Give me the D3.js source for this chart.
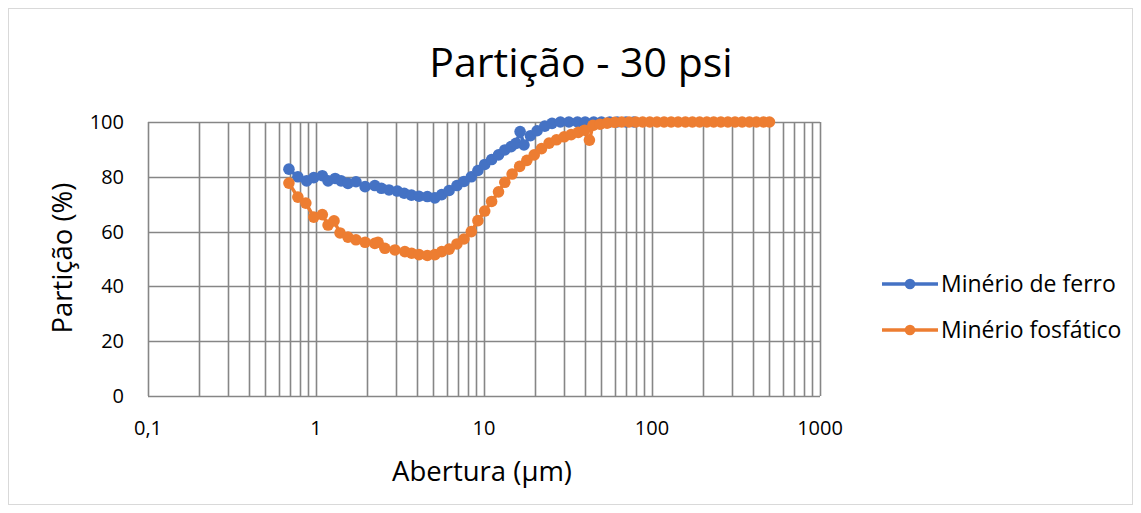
<!DOCTYPE html>
<html>
<head>
<meta charset="utf-8">
<script src="https://cdn.jsdelivr.net/npm/d3@7"></script>
<style>
  html, body { margin: 0; padding: 0; background: #fff; }
  svg { display: block; font-family: "Open Sans", sans-serif; }
</style>
</head>
<body>
<svg id="chart" width="1141" height="513"></svg>
<script>
// ---- data ----
const title = "Partição - 30 psi";
const xTitle = "Abertura (µm)";
const yTitle = "Partição (%)";
const seriesNames = ["Minério de ferro", "Minério fosfático"];
const seriesColors = ["#4472C4", "#ED7D31"];

const xTickValues = [0.1, 1, 10, 100, 1000];
const xTickLabels = ["0,1", "1", "10", "100", "1000"];
const yTickValues = [0, 20, 40, 60, 80, 100];

const feSize = [0.69,0.78,0.88,0.97,1.09,1.18,1.30,1.41,1.55,1.73,1.96,2.24,2.45,2.72,3.05,3.35,3.7,4.1,4.6,5.1,5.6,6.2,6.9,7.6,8.4,9.2,10.1,11.1,12.2,13.3,14.5,15.5,16.4,17.3,18.9,20.7,23,25.4,28.5,32,36,40,45,50,56,62,70,78];
const feVal  = [82.8,80,78.5,79.7,80.4,78.5,79.4,78.5,77.6,78.2,76.4,76.8,75.8,75.2,74.8,74,73.3,72.9,72.8,72.3,73.5,75,76.8,78.3,80,82.3,84.5,86.3,88,89.8,91,92.2,96.5,91.6,95,96.8,98.5,99.5,100,100,100,100,100,100,100,100,100,100];

const phSize = [0.69,0.78,0.87,0.97,1.09,1.18,1.28,1.39,1.55,1.73,1.96,2.24,2.34,2.57,2.95,3.38,3.71,4.1,4.6,5.1,5.6,6.2,6.9,7.6,8.4,9.2,10.1,11.1,12.2,13.3,14.7,16.3,18,19.9,22,24.4,27,30,33,36.4,39.7,42.4,44.5,49,54,60,66,73,80,88,97,107,118,130,143,158,174,192,212,233,257,283,312,344,380,418,461,500];
const phVal  = [77.7,72.6,70.4,65.3,66.2,62.4,63.9,59.5,58,57,56.1,55.7,56.1,53.9,53.3,52.7,52.1,51.6,51.3,51.6,52.7,53.6,55.5,57.3,60,64,67.5,71,74.5,78,81,83.8,86,88,90.3,92.3,93.5,94.6,95.4,96.2,97,93.4,98.8,99.2,99.6,99.9,100,100,100,100,100,100,100,100,100,100,100,100,100,100,100,100,100,100,100,100,100,100];

// ---- layout ----
const svg = d3.select("#chart");
const W = 1141, H = 513;
const plot = { left: 148, right: 820, top: 122, bottom: 396 };

const x = d3.scaleLog().domain([0.1, 1000]).range([plot.left, plot.right]);
const y = d3.scaleLinear().domain([0, 100]).range([plot.bottom, plot.top]);

// chart border
svg.append("rect").attr("x", 8.5).attr("y", 8.5).attr("width", W - 17).attr("height", H - 17)
  .attr("fill", "#fff").attr("stroke", "#d9d9d9").attr("stroke-width", 1);

// title
svg.append("text").attr("x", 581).attr("y", 77).attr("text-anchor", "middle")
  .attr("font-size", 41).attr("fill", "#000").text(title);

// grid
const gridColor = "#868686";
const g = svg.append("g");
g.selectAll("line.vx").data(x.ticks()).join("line")
  .attr("x1", d => Math.round(x(d)) + 0.5).attr("x2", d => Math.round(x(d)) + 0.5)
  .attr("y1", plot.top).attr("y2", plot.bottom)
  .attr("stroke", gridColor).attr("stroke-width", 1.6);
g.selectAll("line.hy").data(yTickValues).join("line")
  .attr("x1", plot.left).attr("x2", plot.right)
  .attr("y1", d => Math.round(y(d)) + 0.5).attr("y2", d => Math.round(y(d)) + 0.5)
  .attr("stroke", gridColor).attr("stroke-width", 1.6);

// axis tick labels
svg.append("g").selectAll("text").data(yTickValues).join("text")
  .attr("x", 124).attr("y", d => y(d)).attr("dy", "0.35em")
  .attr("text-anchor", "end").attr("font-size", 20).attr("fill", "#000")
  .text(d => d);
svg.append("g").selectAll("text").data(xTickValues).join("text")
  .attr("x", d => x(d)).attr("y", 435)
  .attr("text-anchor", "middle").attr("font-size", 20).attr("fill", "#000")
  .text((d, i) => xTickLabels[i]);

// axis titles
svg.append("text").attr("x", 482).attr("y", 481).attr("text-anchor", "middle")
  .attr("font-size", 27.5).attr("fill", "#000").text(xTitle);
svg.append("text").attr("transform", "translate(72,258) rotate(-90)")
  .attr("text-anchor", "middle").attr("font-size", 27.5).attr("fill", "#000").text(yTitle);

// series
const series = [
  { sizes: feSize, vals: feVal, color: seriesColors[0] },
  { sizes: phSize, vals: phVal, color: seriesColors[1] }
];
const line = d3.line().x(d => x(d[0])).y(d => y(d[1]));
series.forEach(s => {
  const pts = s.sizes.map((v, i) => [v, s.vals[i]]);
  const sg = svg.append("g");
  sg.append("path").datum(pts).attr("d", line)
    .attr("fill", "none").attr("stroke", s.color).attr("stroke-width", 3.5)
    .attr("stroke-linejoin", "round");
  sg.selectAll("circle").data(pts).join("circle")
    .attr("cx", d => x(d[0])).attr("cy", d => y(d[1])).attr("r", 5.8)
    .attr("fill", s.color);
});

// legend
const legend = svg.append("g");
seriesNames.forEach((name, i) => {
  const ly = 284 + i * 46;
  legend.append("line").attr("x1", 882).attr("x2", 938).attr("y1", ly).attr("y2", ly)
    .attr("stroke", seriesColors[i]).attr("stroke-width", 3.5);
  legend.append("circle").attr("cx", 910).attr("cy", ly).attr("r", 5.3).attr("fill", seriesColors[i]);
  legend.append("text").attr("x", 941).attr("y", ly).attr("dy", "0.35em")
    .attr("font-size", 23).attr("fill", "#000").text(name);
});
</script>
</body>
</html>
